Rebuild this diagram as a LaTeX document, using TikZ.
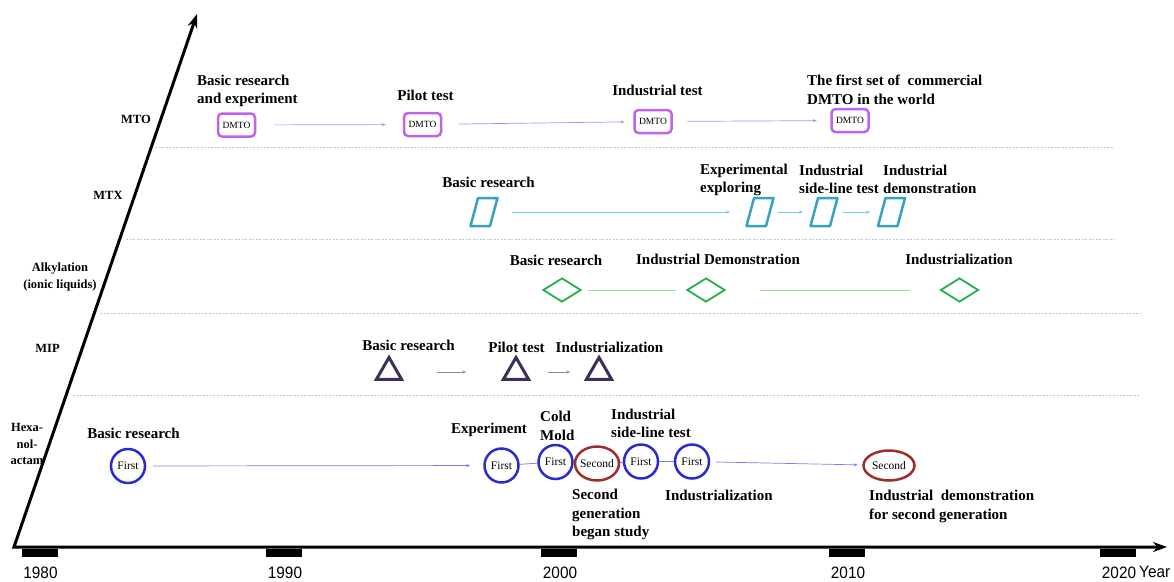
\documentclass[tikz,border=0pt]{standalone}
\usepackage{fontspec}
\setmainfont{Liberation Serif}
\newfontfamily\yearfont[FakeStretch=0.93]{Liberation Sans}
\usetikzlibrary{shapes.geometric,arrows.meta}

\definecolor{mtoviolet}{RGB}{192,98,238}
\definecolor{mtoline}{RGB}{178,140,242}
\definecolor{mtxteal}{RGB}{52,162,192}
\definecolor{mtxline}{RGB}{110,205,232}
\definecolor{alkgreen}{RGB}{34,176,78}
\definecolor{alkline}{RGB}{160,220,130}
\definecolor{mipdark}{RGB}{62,46,92}
\definecolor{mipline}{RGB}{140,140,160}
\definecolor{hexblue}{RGB}{42,42,212}
\definecolor{hexline}{RGB}{125,125,240}
\definecolor{secred}{RGB}{158,46,46}
\definecolor{rowsep}{RGB}{180,200,222}

\tikzset{
  stage/.style={inner sep=0pt,align=left,font=\fontsize{15}{18.5}\selectfont\bfseries},
  rowname/.style={inner sep=0pt,align=center,font=\fontsize{12.5}{16.5}\selectfont\bfseries},
  yearlab/.style={inner sep=0pt,font=\yearfont\fontsize{16.5}{16.5}\selectfont},
  dmto/.style={draw=mtoviolet,line width=2.5pt,rounded corners=4pt,minimum width=37pt,minimum height=23pt,inner sep=0pt,font=\fontsize{9.5}{9.5}\selectfont},
  mtxshape/.style={draw=mtxteal,line width=2.5pt,line join=round},
  alkbox/.style={diamond,draw=alkgreen,line width=1.8pt,minimum width=38pt,minimum height=24pt,inner sep=0pt},
  mipbox/.style={regular polygon,regular polygon sides=3,draw=mipdark,line width=3pt,minimum size=29pt,inner sep=0pt},
  firstgen/.style={circle,draw=hexblue,line width=2.5pt,minimum size=34pt,inner sep=0pt,font=\fontsize{11.5}{11.5}\selectfont},
  secondtext/.style={inner sep=0pt,font=\fontsize{11.5}{11.5}\selectfont},
  secondgen/.style={ellipse,draw=secred,line width=2.5pt,inner sep=0pt,label={[secondtext]center:Second}},
  flow/.style={-{Stealth[length=4pt,width=3pt]},line width=0.7pt},
  axis/.style={line width=3pt,{Stealth[length=14pt,width=10pt]}-{Stealth[length=14pt,width=10pt]}}
}

\begin{document}
\begin{tikzpicture}[x=1pt,y=-1pt]
\path[fill=white,use as bounding box] (0,0) rectangle (1174,581);

% row separators
\foreach \y/\xa/\xb in {147/155/1113,239/126/1114,313/100/1140,395/73/1140}
  \draw[rowsep,line width=0.6pt,dash pattern=on 2pt off 1.5pt] (\xa,\y) -- (\xb,\y);

% axes
\coordinate (o) at (14,547);
\coordinate (xend) at (1167,547);
\coordinate (yend) at (197,14);
\draw[axis] (yend) -- (o) -- (xend);

\foreach \x/\yr in {39.5/1980,284/1990,559/2000,847/2010,1118/2020}{
  \fill (\x-18,549) rectangle (\x+18,557);
  \node[yearlab] (yr\yr) at (\x+1,573) {\yr};
}
\node[yearlab,anchor=west] (yearname) at (1139,572) {Year};

% row names
\node[rowname] (mto) at (136,119) {MTO};
\node[rowname] (mtx) at (108,195) {MTX};
\node[rowname] (alk) at (60,277) {Alkylation\\(ionic liquids)};
\node[rowname] (mip) at (47.5,348) {MIP};
\node[rowname] (hex) at (27,444) {Hexa-\\nol-\\actam};

% MTO
\node[dmto] (m1) at (236.5,125) {DMTO};
\node[dmto] (m2) at (422.5,124.5) {DMTO};
\node[dmto] (m3) at (653,121.5) {DMTO};
\node[dmto] (m4) at (850,120.5) {DMTO};
\node[stage,anchor=west] (m1t) at (197,91) {Basic research\\and experiment};
\node[stage] (m2t) at (425.5,95) {Pilot test};
\node[stage] (m3t) at (657.5,90) {Industrial test};
\node[stage,anchor=west] (m4t) at (807,90) {The first set of\ \ commercial\\DMTO in the world};
\draw[flow,mtoline,shorten <=18pt,shorten >=17pt] (m1) -- (m2);
\draw[flow,mtoline,shorten <=17pt,shorten >=8.5pt] (m2) -- (m3);
\draw[flow,mtoline,shorten <=14.5pt,shorten >=13.5pt] (m3) -- (m4);

% MTX
\foreach \n/\x in {x1/484,x2/760,x3/824,x4/891.5}{
  \coordinate (\n) at (\x,212);
  \draw[mtxshape] (\n) ++(-13.5,14) -- ++(19.5,0) -- ++(7.5,-28) -- ++(-19.5,0) -- cycle;
}
\node[stage] (x1t) at (488.5,182) {Basic research};
\node[stage,anchor=west] (x2t) at (700,180) {Experimental\\exploring};
\node[stage,anchor=west] (x3t) at (799,179.5) {Industrial\\side-line test};
\node[stage,anchor=west] (x4t) at (883,179.5) {Industrial\\demonstration};
\draw[flow,mtxline,shorten <=28pt,shorten >=30pt] (x1) -- (x2);
\draw[flow,mtxline,shorten <=18pt,shorten >=21pt] (x2) -- (x3);
\draw[flow,mtxline,shorten <=19pt,shorten >=21.5pt] (x3) -- (x4);

% Alkylation
\node[alkbox] (a1) at (562,290) {};
\node[alkbox] (a2) at (706,290) {};
\node[alkbox] (a3) at (959.5,290) {};
\node[stage] (a1t) at (556,260) {Basic research};
\node[stage] (a2t) at (718,259) {Industrial Demonstration};
\node[stage] (a3t) at (959,259) {Industrialization};
\draw[alkline,line width=0.8pt,shorten <=6pt,shorten >=10pt] (a1) -- (a2);
\draw[alkline,line width=0.8pt,shorten <=34pt,shorten >=30pt] (a2) -- (a3);

% MIP
\node[mipbox] (p1) at (389,372) {};
\node[mipbox] (p2) at (516,372) {};
\node[mipbox] (p3) at (599,372) {};
\node[stage] (p1t) at (408.5,345) {Basic research};
\node[stage] (p2t) at (516.5,347) {Pilot test};
\node[stage] (p3t) at (609.5,347) {Industrialization};
\draw[flow,mipline,shorten <=37.6pt,shorten >=39.6pt] (p1) -- (p2);
\draw[flow,mipline,shorten <=21.6pt,shorten >=18.6pt] (p2) -- (p3);

% Hexanolactam
\node[firstgen] (h1) at (128,466) {First};
\node[firstgen] (h2) at (501.5,465.5) {First};
\node[firstgen] (h3) at (555.5,462) {First};
\node[secondgen,minimum width=44pt,minimum height=34pt] (h4) at (597,463.5) {};
\node[firstgen] (h5) at (641,461.5) {First};
\node[firstgen] (h6) at (692,461.5) {First};
\node[secondgen,minimum width=51pt,minimum height=30pt] (h7) at (889,465.5) {};
\node[stage] (h1t) at (133.5,433) {Basic research};
\node[stage] (h2t) at (489,430) {Experiment};
\node[stage,anchor=west] (h3t) at (540,426) {Cold\\Mold};
\node[stage,anchor=west] (h4t) at (572,514.5) {Second\\generation\\began study};
\node[stage,anchor=west] (h5t) at (611,423.5) {Industrial\\side-line test};
\node[stage,anchor=west] (h6t) at (665,495) {Industrialization};
\node[stage,anchor=west] (h7t) at (869,506.5) {Industrial\ \ demonstration\\for second generation};
\draw[flow,hexline,shorten <=6.75pt,shorten >=13pt] (h1) -- (h2);
\draw[hexline,line width=0.8pt] (h2) -- (h3);
\draw[hexline,line width=0.8pt] (h4) -- (h5);
\draw[hexline,line width=0.8pt] (h5) -- (h6);
\draw[flow,hexline,shorten <=5.75pt,shorten >=4.5pt] (h6) -- (h7);
\end{tikzpicture}
\end{document}
